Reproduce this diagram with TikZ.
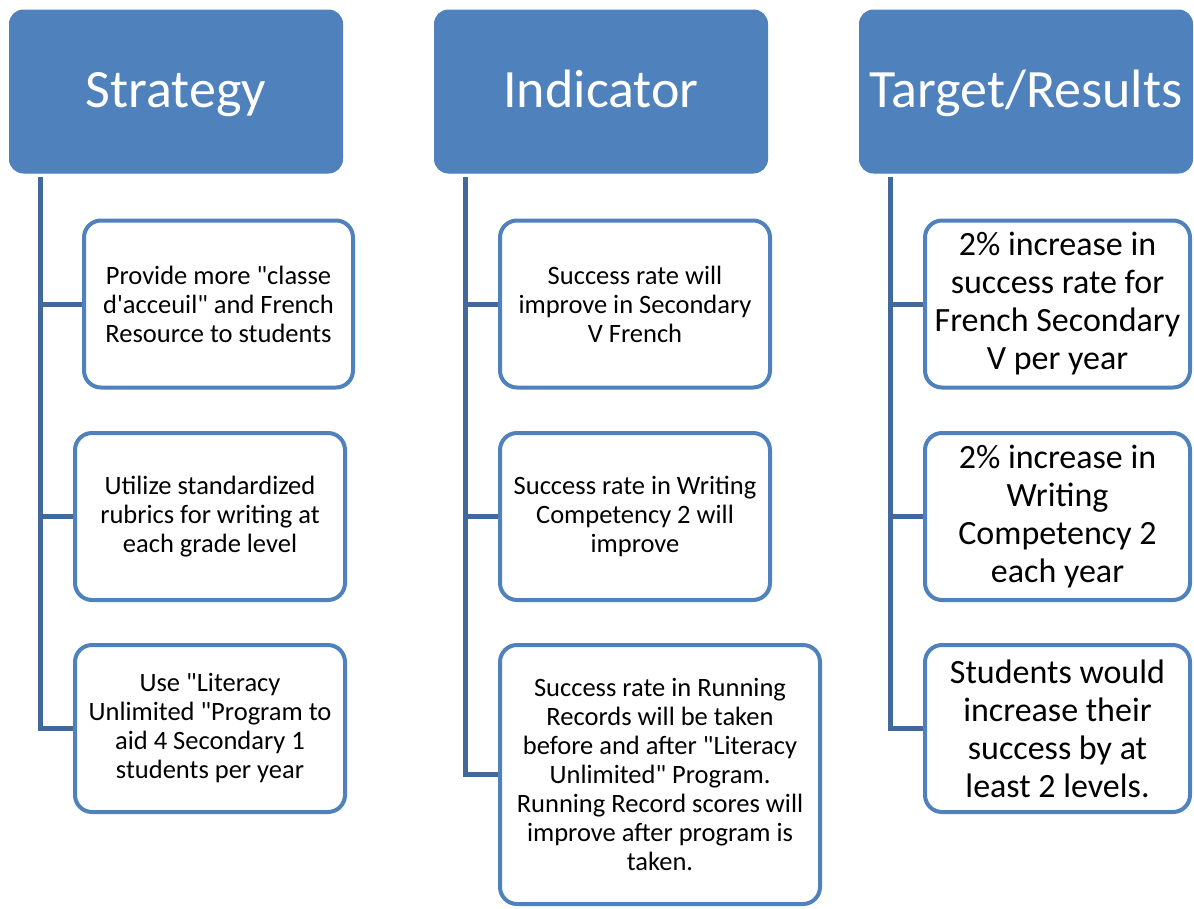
\documentclass[tikz,border=0pt]{standalone}
\usepackage{fontspec}
\setmainfont{Carlito}[Ligatures=TeXOff]
\definecolor{headblue}{HTML}{4F81BD}
\definecolor{trunkblue}{HTML}{41699B}
\tikzset{
  head/.style = {draw=headblue, fill=headblue, rounded corners=14pt, line width=1pt,
    minimum width=333pt, minimum height=163pt, text height=40pt, text depth=8pt,
    text=white, font=\fontsize{54}{62}\selectfont},
  item/.style = {draw=headblue, fill=white, rounded corners=17pt, line width=4pt,
    minimum width=270pt, minimum height=167pt, align=center, font=\fontsize{26.5}{29}\selectfont},
  goal/.style = {item, minimum width=265pt, font=\fontsize{34}{38}\selectfont},
  trunk/.style = {draw=trunkblue, line width=5pt}
}

\begin{document}
\begin{tikzpicture}[x=1pt,y=-1pt]
  \useasboundingbox (0,0) rectangle (1194,908);

  % column heads
  \node[head] (hStrat) at (176,91.5) {Strategy};
  \node[head] (hInd) at (601,91.5) {Indicator};
  \node[head] (hTarget) at (1026,91.5) {Target/Results};

  % strategy
  \node[item, minimum width=269pt] (s1) at (218.5,304) {Provide more "classe\\d'acceuil" and French\\Resource to students};
  \node[item] (s2) at (210,516.5) {Utilize standardized\\rubrics for writing at\\each grade level};
  \node[item] (s3) at (210,728.5) {Use "Literacy\\Unlimited "Program to\\aid 4 Secondary 1\\students per year};

  % indicator
  \node[item] (i1) at (635,304) {Success rate will\\improve in Secondary\\V French};
  \node[item] (i2) at (635,516.5) {Success rate in Writing\\Competency 2 will\\improve};
  \node[item, minimum width=320pt, minimum height=259pt] (i3) at (660,774.5) {Success rate in Running\\Records will be taken\\before and after "Literacy\\Unlimited" Program.\\Running Record scores will\\improve after program is\\taken.};

  % target
  \node[goal] (t1) at (1057.5,304) {2\% increase in\\success rate for\\French Secondary\\V per year};
  \node[goal] (t2) at (1057.5,516.5) {2\% increase in\\Writing\\Competency 2\\each year};
  \node[goal] (t3) at (1057.5,728.5) {Students would\\increase their\\success by at\\least 2 levels.};

  % trunks
  \coordinate (sT) at (40,177);
  \coordinate (iT) at (465,177);
  \coordinate (tT) at (890,177);
  \draw[trunk] (sT) |- (s3.west);
  \draw[trunk] (sT) |- (s1.west);
  \draw[trunk] (sT) |- (s2.west);
  \draw[trunk] (iT) |- (i3.west);
  \draw[trunk] (iT) |- (i1.west);
  \draw[trunk] (iT) |- (i2.west);
  \draw[trunk] (tT) |- (t3.west);
  \draw[trunk] (tT) |- (t1.west);
  \draw[trunk] (tT) |- (t2.west);
\end{tikzpicture}
\end{document}
